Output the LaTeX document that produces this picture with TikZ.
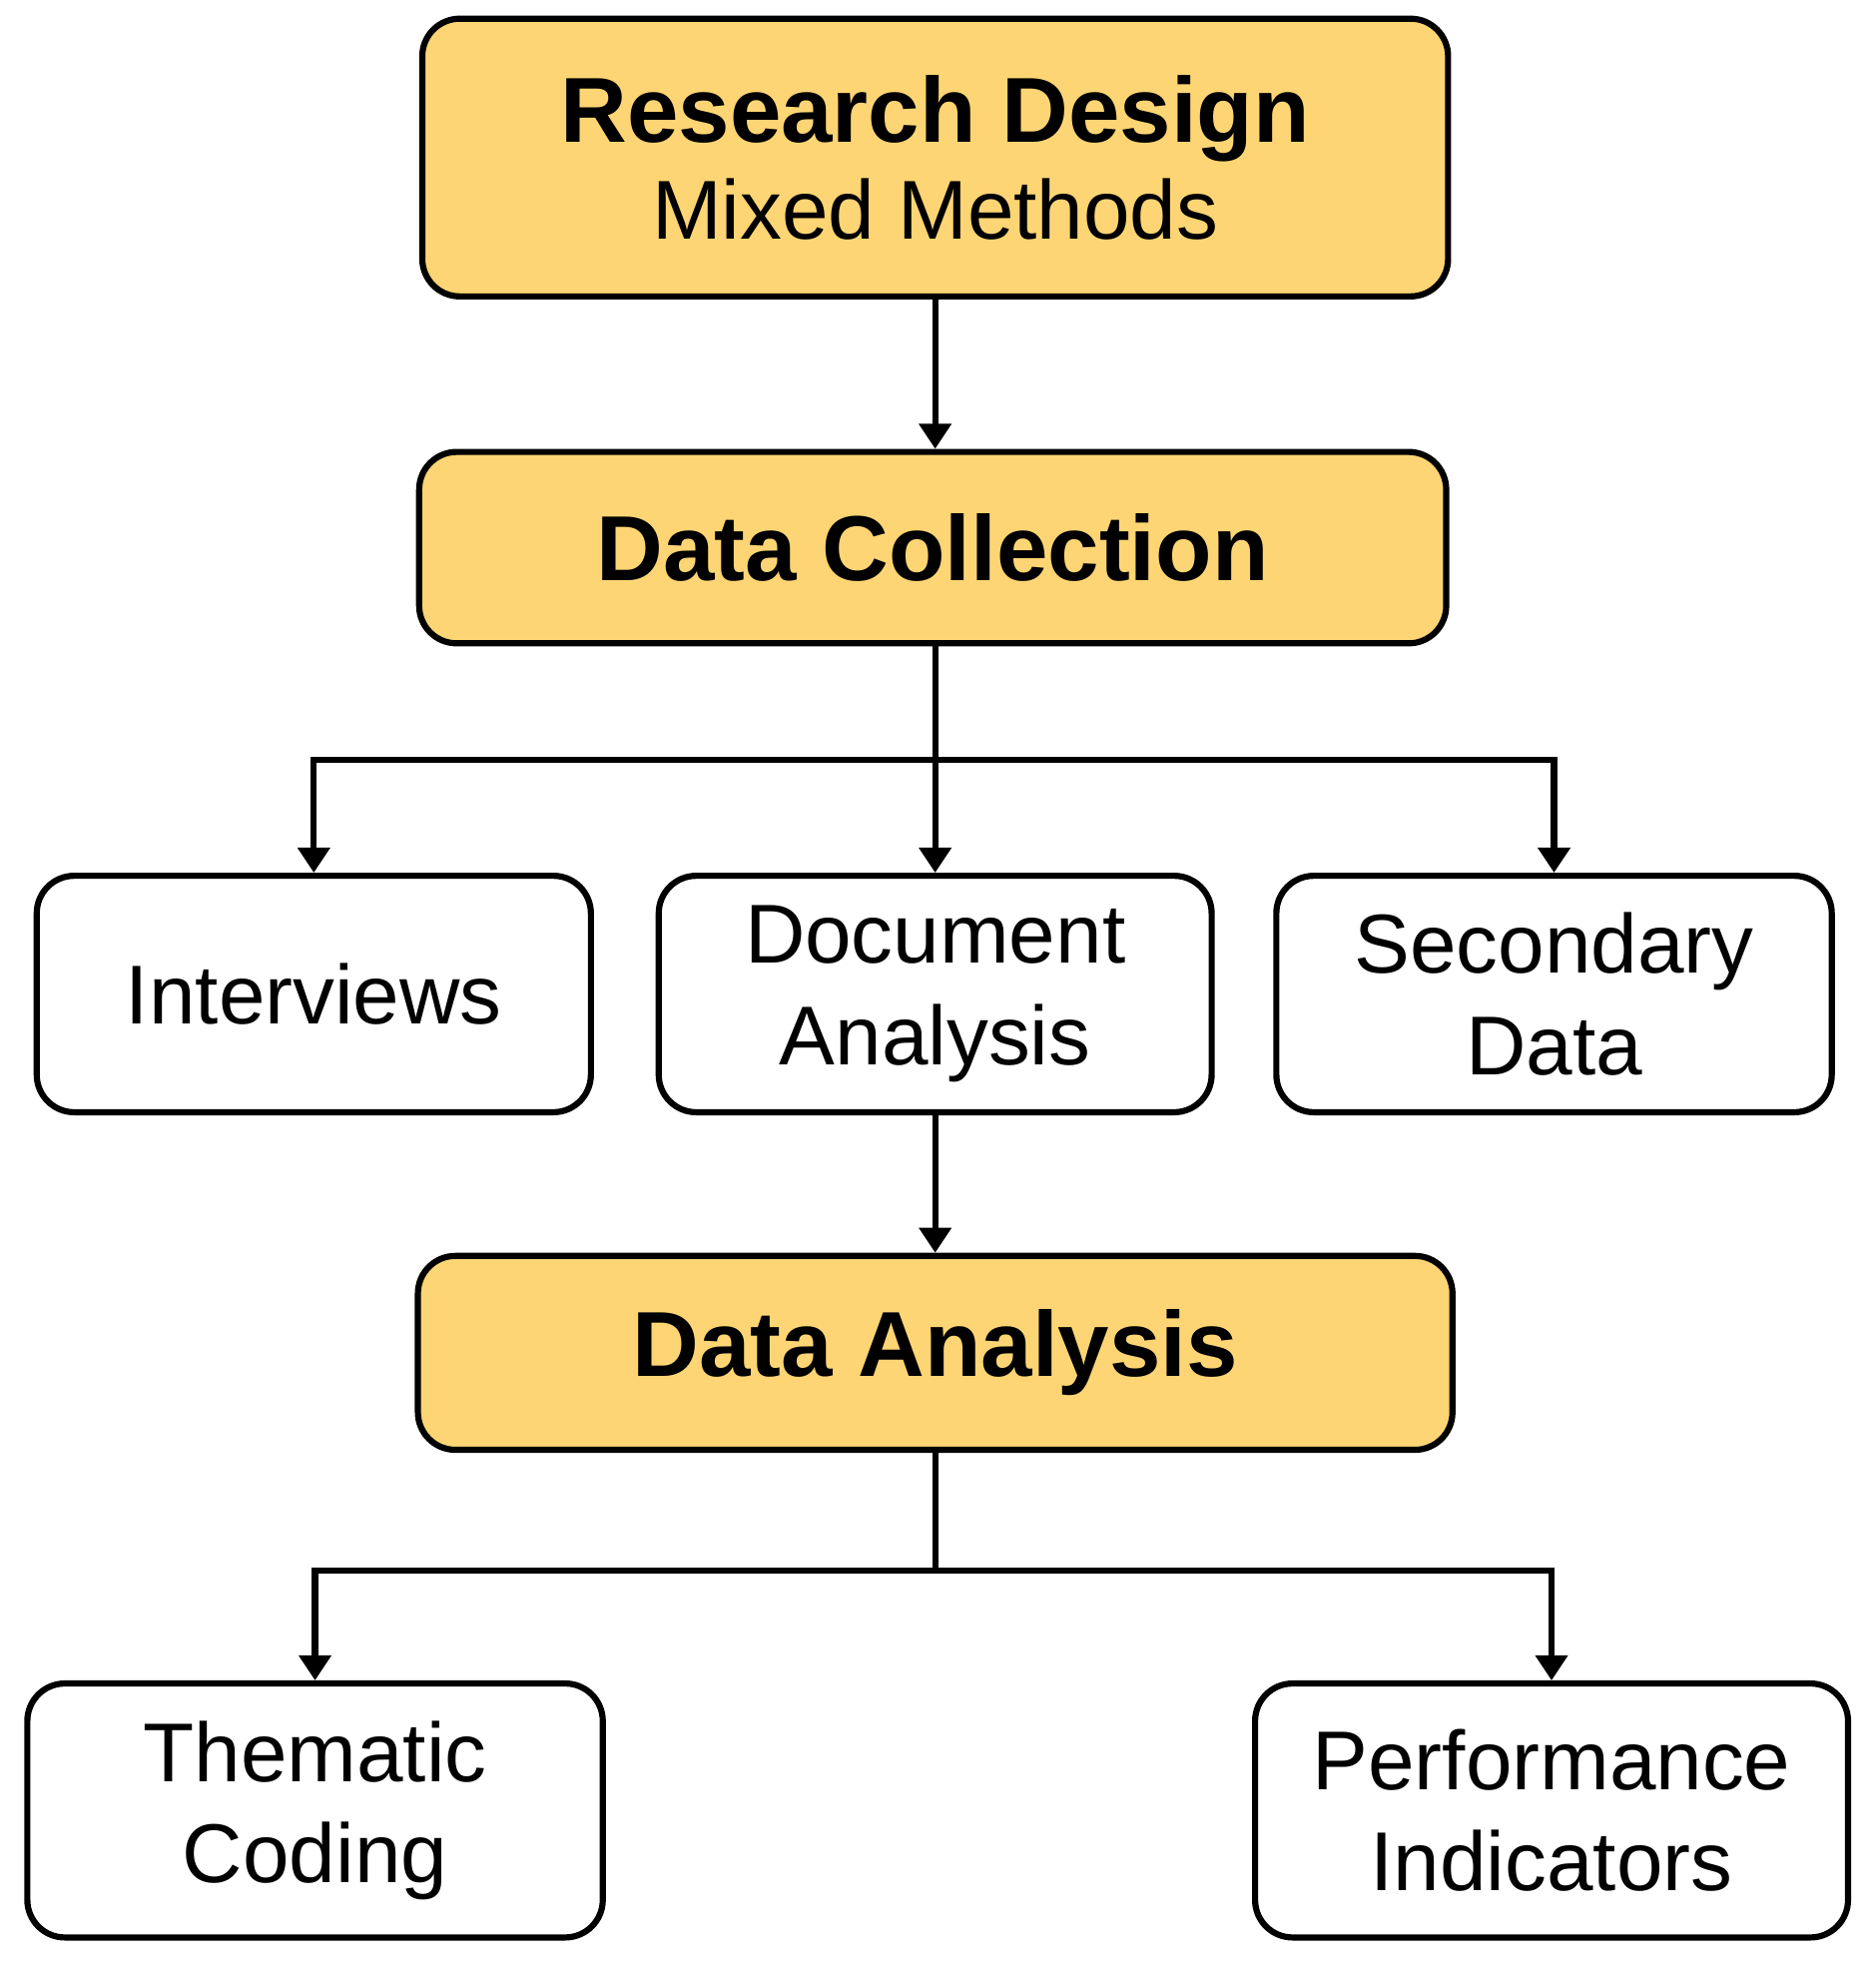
\documentclass[tikz,border=0pt]{standalone}
\usepackage{fontspec}
\setmainfont{Liberation Sans}
\usetikzlibrary{arrows.meta}
\definecolor{gold}{HTML}{FDD574}
\begin{document}
\begin{tikzpicture}[x=0.01cm,y=-0.01cm,
  box/.style={draw=black,line width=1.4pt,rounded corners=0.3cm,align=center,inner sep=0pt},
  main/.style={box,fill=gold,font=\fontsize{21}{24}\selectfont\bfseries},
  sub/.style={box,fill=white,font=\fontsize{19}{23}\selectfont},
  arr/.style={line width=1.4pt,-{Triangle[length=0.2cm,width=0.25cm]}},
  ln/.style={line width=1.4pt}]
\useasboundingbox (0,0) rectangle (1500,1570);
\node[main,minimum width=8.2cm,minimum height=2.22cm] (rd) at (748,126) {Research Design\\[-2pt]{\fontsize{19}{23}\selectfont\mdseries Mixed Methods}};
\node[main,minimum width=8.21cm,minimum height=1.53cm] (dc) at (746,438) {Data Collection};
\node[sub,minimum width=4.43cm,minimum height=1.89cm] (int) at (251,795) {Interviews};
\node[sub,minimum width=4.42cm,minimum height=1.89cm] (doc) at (748,795) {Document\\Analysis};
\node[sub,minimum width=4.44cm,minimum height=1.89cm] (sec) at (1243,795) {Secondary\\Data};
\node[main,minimum width=8.27cm,minimum height=1.55cm] (da) at (748,1082) {Data Analysis};
\node[sub,minimum width=4.6cm,minimum height=2.03cm] (th) at (252,1448) {Thematic\\Coding};
\node[sub,minimum width=4.74cm,minimum height=2.03cm] (pi) at (1241,1448) {Performance\\Indicators};
\coordinate (b1) at (748,608);
\coordinate (b2) at (748,1256);
\draw[arr] (rd.south -| 748,0) -- (dc.north -| 748,0);
\draw[ln] (dc.south -| b1) -- (b1);
\draw[arr] (b1) -| (int.north);
\draw[arr] (b1) -- (doc.north);
\draw[arr] (b1) -| (sec.north);
\draw[arr] (doc.south) -- (da.north -| doc.south);
\draw[ln] (da.south -| b2) -- (b2);
\draw[arr] (b2) -| (th.north);
\draw[arr] (b2) -| (pi.north);
\end{tikzpicture}
\end{document}
